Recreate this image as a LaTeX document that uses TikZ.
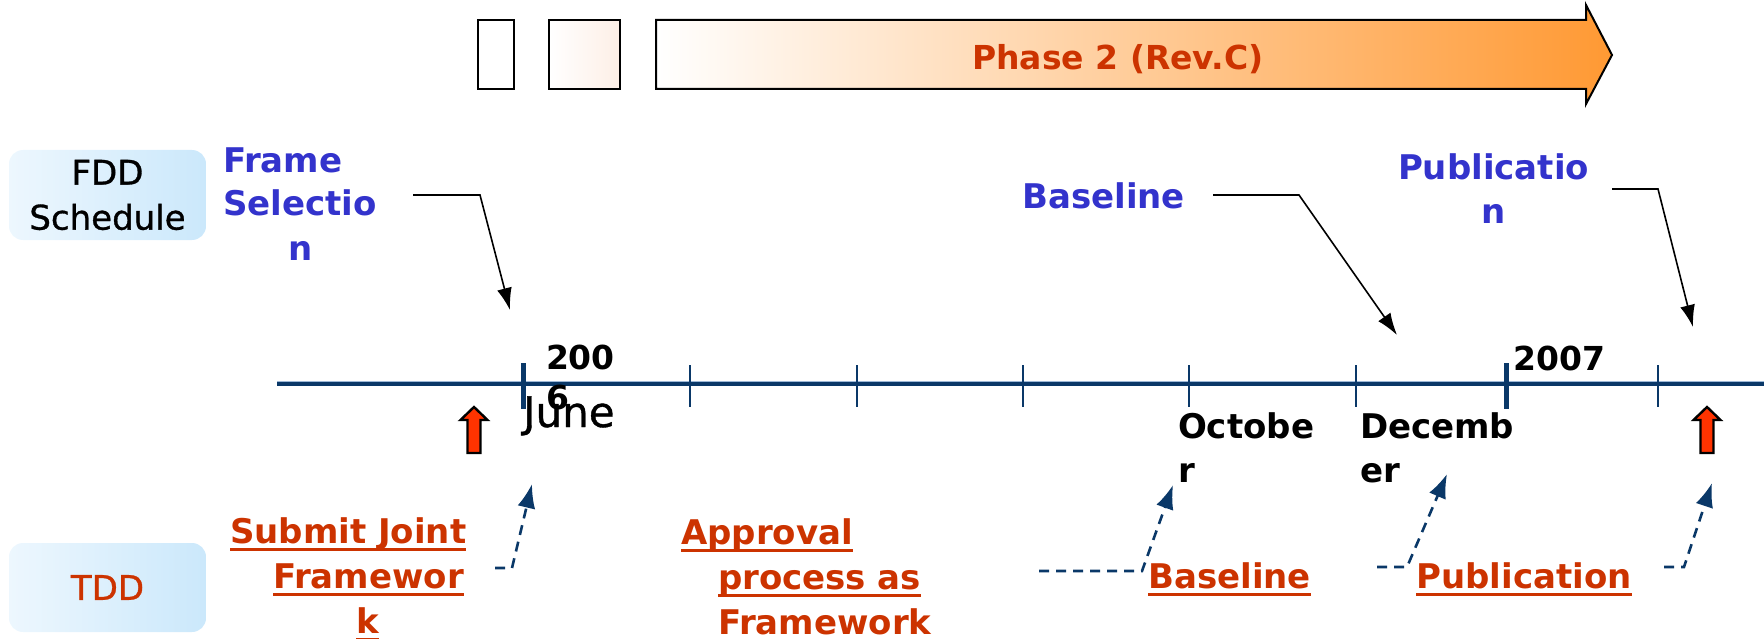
\documentclass[tikz,border=0pt]{standalone}
\usepackage{fontspec}
\setmainfont{DejaVu Sans}
\newfontfamily\mediumfont{DejaVu Sans}[FakeBold=0.9]
\usetikzlibrary{arrows.meta}

\definecolor{tlnavy}{HTML}{0A3868}
\definecolor{tlpale}{HTML}{9DB8D6}
\definecolor{lblblue}{HTML}{3333CC}
\definecolor{tddred}{HTML}{CC3300}
\definecolor{markred}{HTML}{FF3300}
\definecolor{phaseorange}{HTML}{FF9933}
\definecolor{boxleft}{HTML}{EDF7FE}
\definecolor{boxright}{HTML}{CBE8FB}
\definecolor{peach}{HTML}{FDEFE6}

% strut fixing the height of the first line of a label
\newcommand\firstline{\rule{0pt}{26pt}}
% underline at a fixed depth below the baseline
\newcommand\tddul[1]{\setbox0\hbox{#1}\rlap{\rule[-7.5pt]{\wd0}{3pt}}\box0}

\tikzset{
  lbl/.style={inner sep=0pt, outer sep=0pt, anchor=north west, align=left},
  bigfont/.style={font=\fontsize{34pt}{44pt}\selectfont\bfseries},
  fddlbl/.style={lbl, bigfont, text=lblblue},
  tddlbl/.style={lbl, font=\fontsize{34pt}{45pt}\selectfont\bfseries, text=tddred},
  monthlbl/.style={lbl, bigfont, text=black},
  sidebox/.style={rounded corners=14pt, minimum width=197pt, inner sep=0pt,
    left color=boxleft, right color=boxright, align=center,
    font=\fontsize{34pt}{45pt}\mediumfont},
  timeline/.style={draw=tlnavy, line width=3.2pt},
  minortick/.style={draw=tlnavy, line width=2.2pt},
  yeartick/.style={draw=tlnavy, line width=5pt},
  callout/.style={draw=black, line width=1.6pt, -{Latex[length=22pt,width=15pt]}},
  tddlink/.style={draw=tlnavy, line width=2.6pt, dash pattern=on 10pt off 7pt,
    -{Latex[length=24pt,width=18pt]}},
  phasebox/.style={draw=black, line width=2pt},
  marker/.pic={
    \draw[fill=markred, line width=2.4pt, line join=miter]
      (-6.5,0) -- (-6.5,-33) -- (-13.5,-33) -- (0,-46) -- (13.5,-33)
      -- (6.5,-33) -- (6.5,0) -- cycle;
  }
}

\begin{document}
\begin{tikzpicture}[x=1pt, y=-1pt]
\useasboundingbox (0,0) rectangle (1764,639);

% ---- phase bar ----
\draw[phasebox, fill=white] (478,20) rectangle (514,89);
\shade[left color=white, right color=peach] (549,20) rectangle (620,89);
\draw[phasebox] (549,20) rectangle (620,89);
\shade[left color=white, right color=phaseorange]
  (656,20) -- (1586,20) -- (1586,5) -- (1612,55) -- (1586,104) -- (1586,89) -- (656,89) -- cycle;
\draw[phasebox, line join=miter]
  (656,20) -- (1586,20) -- (1586,5) -- (1612,55) -- (1586,104) -- (1586,89) -- (656,89) -- cycle;
\node[inner sep=0pt, anchor=base west, text=tddred,
      font=\fontsize{33pt}{40pt}\selectfont\bfseries] (phase) at (972,70) {Phase 2 (Rev.C)};

% ---- side captions ----
\node[sidebox, minimum height=90pt] (fdd) at (107.5,195) {FDD\\Schedule};
\node[sidebox, minimum height=89pt, text=tddred] (tdd) at (107.5,587.5) {TDD};

% ---- FDD milestones ----
\node[fddlbl] (fsel) at (223,146) {\firstline Frame\\Selectio\\\hspace*{65pt}n};
\node[inner sep=0pt, anchor=base west, bigfont, text=lblblue] (fbase) at (1022,208) {Baseline};
\node[fddlbl, align=center] (fpub) at (1398,154) {\firstline Publicatio\\n};

\coordinate (fselA) at (413,195);
\coordinate (fselB) at (480,195);
\coordinate (fselT) at (510,310);
\coordinate (fbaseA) at (1213,195);
\coordinate (fbaseB) at (1299,195);
\coordinate (fbaseT) at (1397,335);
\coordinate (fpubA) at (1612,189);
\coordinate (fpubB) at (1658,189);
\coordinate (fpubT) at (1693,327);
\draw[callout] (fselA) -- (fselB) -- (fselT);
\draw[callout] (fbaseA) -- (fbaseB) -- (fbaseT);
\draw[callout] (fpubA) -- (fpubB) -- (fpubT);

% ---- time line ----
\coordinate (tlL) at (277,384);
\coordinate (tlR) at (1764,384);
\draw[draw=tlpale, line width=1.4pt] ([yshift=2.6pt]tlL) -- ([yshift=2.6pt]tlR);
\draw[timeline] (tlL) -- (tlR);
\foreach \x in {690,857,1023,1189,1356,1658}
  \draw[minortick] (\x,365) -- (\x,407);
\draw[yeartick] (523,363) -- (523,409);
\draw[yeartick] (1506,363) -- (1506,409);

\node[lbl, font=\fontsize{33pt}{40pt}\selectfont\bfseries] (y2006) at (546,343) {\firstline 200\\6};
\node[inner sep=0pt, anchor=base west, font=\fontsize{42pt}{48pt}\mediumfont] (june) at (523,427) {June};
\node[inner sep=0pt, anchor=base west, font=\fontsize{33pt}{40pt}\selectfont\bfseries] (y2007) at (1513,370) {2007};
\node[monthlbl] (oct) at (1178,412) {\firstline Octobe\\r};
\node[monthlbl] (dec) at (1360,412) {\firstline Decemb\\er};

\pic at (474,453) {marker};
\pic at (1707,453) {marker};

% ---- TDD milestones ----
\node[tddlbl] (tsub) at (230,517)
  {\firstline\tddul{Submit Joint}\\\hspace*{43pt}\tddul{Framewor}\\\hspace*{126pt}\tddul{k}};
\node[tddlbl] (tappr) at (681,518)
  {\firstline\tddul{Approval}\\\hspace*{37pt}\tddul{process as}\\\hspace*{37pt}Framework};
\node[inner sep=0pt, anchor=base west, font=\fontsize{34pt}{45pt}\selectfont\bfseries, text=tddred]
  (tbase) at (1148,588) {\tddul{Baseline}};
\node[inner sep=0pt, anchor=base west, font=\fontsize{34pt}{45pt}\selectfont\bfseries, text=tddred]
  (tpub) at (1416,588) {\tddul{Publication}};

\coordinate (tsubA) at (495,568);
\coordinate (tsubB) at (512,568);
\coordinate (tsubT) at (532,484);
\coordinate (tapprA) at (1039,571);
\coordinate (tapprB) at (1142,571);
\coordinate (tapprT) at (1173,485);
\coordinate (tbaseA) at (1377,567);
\coordinate (tbaseB) at (1407,567);
\coordinate (tbaseT) at (1447,474);
\coordinate (tpubA) at (1664,567);
\coordinate (tpubB) at (1684,567);
\coordinate (tpubT) at (1712,483);
\draw[tddlink] (tsubA) -- (tsubB) -- (tsubT);
\draw[tddlink] (tapprA) -- (tapprB) -- (tapprT);
\draw[tddlink] (tbaseA) -- (tbaseB) -- (tbaseT);
\draw[tddlink] (tpubA) -- (tpubB) -- (tpubT);
\end{tikzpicture}
\end{document}
